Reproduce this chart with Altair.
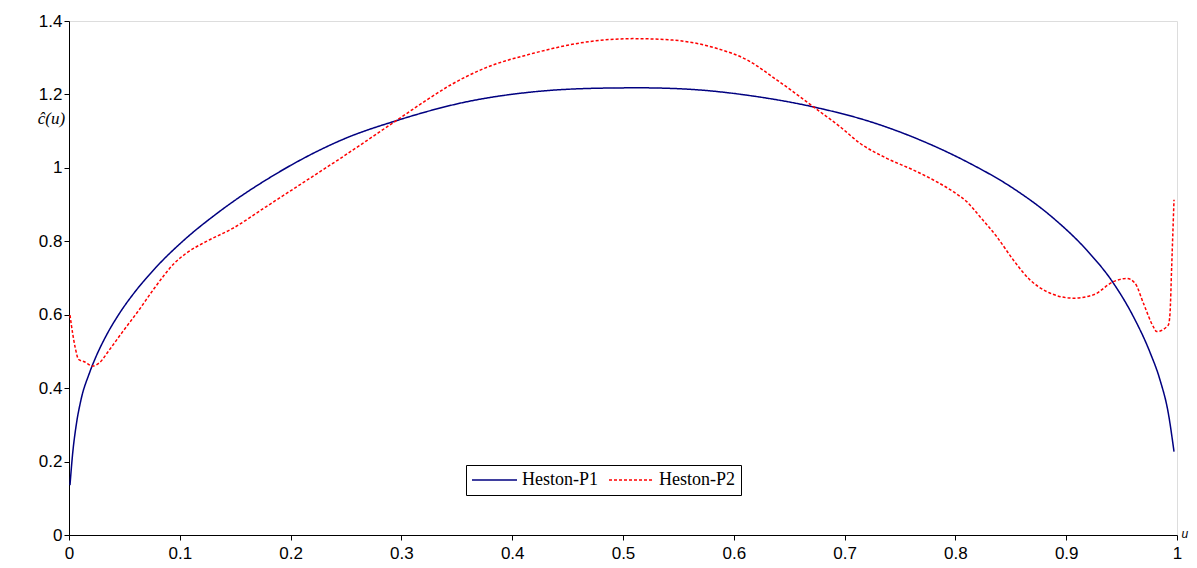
import altair as alt
import pandas as pd

series = ["Heston-P1", "Heston-P2"]

p1_u = [0.0009, 0.0033, 0.0063, 0.0108, 0.0183, 0.0244, 0.0334, 0.0454, 0.0605, 0.0785,
        0.1026, 0.1327, 0.1567, 0.1778, 0.208, 0.25, 0.296, 0.359, 0.419, 0.479,
        0.515, 0.560, 0.621, 0.6778, 0.7229, 0.768, 0.8132, 0.8523, 0.8884, 0.9185,
        0.9426, 0.9606, 0.9757, 0.9847, 0.9922, 0.9973]
p1_c = [0.136, 0.222, 0.295, 0.368, 0.440, 0.486, 0.542, 0.603, 0.666, 0.729,
        0.800, 0.874, 0.926, 0.967, 1.020, 1.081, 1.129, 1.18, 1.207, 1.217,
        1.218, 1.214, 1.194, 1.162, 1.126, 1.076, 1.012, 0.944, 0.863, 0.776,
        0.686, 0.595, 0.497, 0.422, 0.331, 0.227]

p2_u = [0.0009, 0.0033, 0.0057, 0.0087, 0.0138, 0.0214, 0.0274, 0.0364, 0.0485, 0.062,
        0.077, 0.086, 0.095, 0.1056, 0.1236, 0.1477, 0.1778, 0.215, 0.245, 0.296,
        0.323, 0.344, 0.374, 0.419, 0.470, 0.509, 0.545, 0.585, 0.612, 0.639,
        0.6778, 0.6959, 0.7139, 0.7380, 0.7621, 0.7801, 0.7981, 0.8102, 0.8222, 0.8372,
        0.8523, 0.8673, 0.8824, 0.9065, 0.9245, 0.9426, 0.9546, 0.9621, 0.9697, 0.9787,
        0.9817, 0.9922, 0.9937, 0.9952, 0.9973]
p2_c = [0.599, 0.549, 0.509, 0.478, 0.472, 0.460, 0.469, 0.504, 0.554, 0.608,
        0.672, 0.708, 0.740, 0.767, 0.799, 0.835, 0.894, 0.967, 1.026, 1.130,
        1.185, 1.225, 1.27, 1.312, 1.344, 1.352, 1.348, 1.325, 1.294, 1.239,
        1.153, 1.112, 1.067, 1.026, 0.994, 0.967, 0.935, 0.908, 0.867, 0.813,
        0.749, 0.695, 0.663, 0.645, 0.654, 0.690, 0.699, 0.686, 0.631, 0.567,
        0.554, 0.572, 0.604, 0.731, 0.913]

x_ticks = [0, 0.1, 0.2, 0.3, 0.4, 0.5, 0.6, 0.7, 0.8, 0.9, 1]
y_ticks = [0, 0.2, 0.4, 0.6, 0.8, 1, 1.2, 1.4]

df = pd.concat([
    pd.DataFrame({"u": p1_u, "c": p1_c, "s": series[0], "o": range(len(p1_u))}),
    pd.DataFrame({"u": p2_u, "c": p2_c, "s": series[1], "o": range(len(p2_u))}),
])

legend = alt.Legend(
    title=None, orient="none", legendX=397, legendY=444, direction="horizontal",
    strokeColor="black", fillColor="white", padding=6, cornerRadius=0,
    labelFont="Liberation Serif", labelFontSize=18, labelColor="black",
    symbolType="M-1.2,0L4.8,0", symbolSize=225, symbolStrokeWidth=1.5,
    columnPadding=8, labelOffset=32,
)

x_axis = alt.Axis(
    values=x_ticks, format=".1~f", tickSize=5, tickColor="black", domainColor="black",
    labelFont="Liberation Sans", labelFontSize=17, labelColor="black", labelPadding=5,
    labelFlush=False, grid=False,
    title="u", titleX=1112, titleY=2, titleAlign="left", titleBaseline="alphabetic",
    titleFont="Liberation Sans", titleFontStyle="italic", titleFontWeight="normal",
    titleFontSize=12, titleColor="black",
)
y_axis = alt.Axis(
    values=y_ticks, format=".1~f", tickSize=5, tickColor="black", domainColor="black",
    labelFont="Liberation Sans", labelFontSize=17, labelColor="black", labelPadding=2,
    grid=False,
    title="ĉ(u)", titleAngle=0, titleX=-18, titleY=97, titleAlign="center",
    titleBaseline="middle", titleFont="Liberation Serif", titleFontStyle="italic",
    titleFontWeight="normal", titleFontSize=17, titleColor="black",
)

chart = alt.Chart(df).mark_line(interpolate="monotone", strokeWidth=1.5).encode(
    x=alt.X("u:Q", scale=alt.Scale(domain=[0, 1], nice=False, zero=False), axis=x_axis),
    y=alt.Y("c:Q", scale=alt.Scale(domain=[0, 1.4], nice=False), axis=y_axis),
    color=alt.Color("s:N", scale=alt.Scale(domain=series, range=["#000080", "#FF0000"]), legend=legend),
    strokeDash=alt.StrokeDash("s:N", scale=alt.Scale(domain=series, range=[[1, 0], [3, 2]]), legend=legend),
    order="o:Q",
).properties(
    width=1108, height=514,
    autosize=alt.AutoSizeParams(type="none"),
    padding={"left": 61, "top": 13, "right": 12, "bottom": 25},
).configure_view(stroke=None).configure(background="white")

chart.save("out.html", embed_options={"renderer": "svg", "actions": False})
